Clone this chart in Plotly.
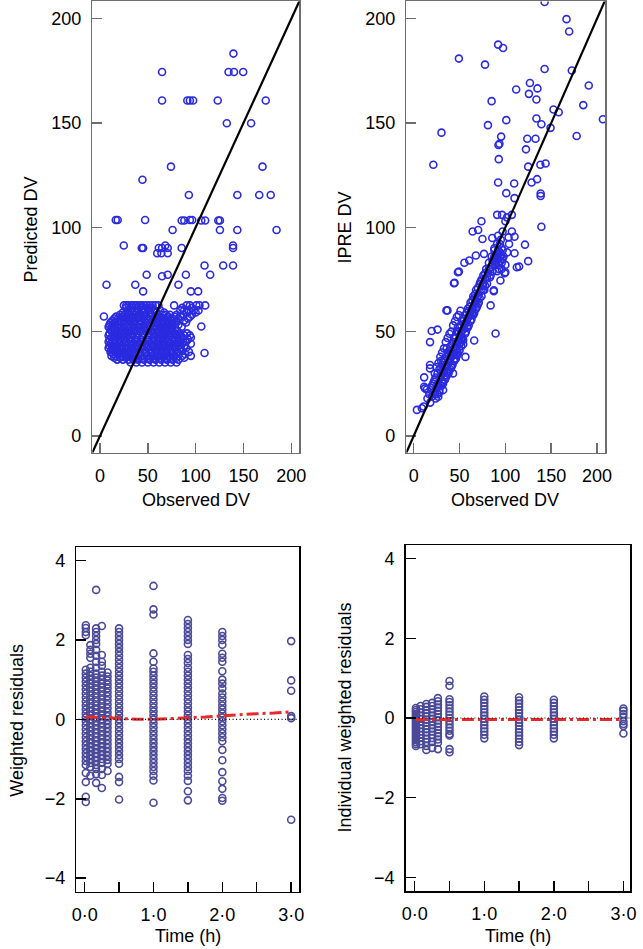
import plotly.graph_objects as go

# ---------------- DATA ----------------
# Top-left: Observed DV vs population Predicted DV (sparse points)
tl_obs = [
    139.5, 64.9, 134.4, 140.1, 149.7,
    64.9, 91.3, 94.0, 97.4, 123.1,
    173.3, 132.6, 158.0, 74.2, 169.9,
    44.4, 92.9, 143.6, 166.5, 178.5,
    16.5, 18.5, 47.2, 85.4, 88.2,
    94.0, 96.4, 105.9, 110.0, 123.7,
    125.4, 75.9, 125.4, 143.6, 184.6,
    24.9, 43.7, 45.1, 61.5, 64.9,
    68.3, 70.8, 59.8, 64.2, 70.8,
    85.4, 139.1, 139.1, 109.3, 128.8,
    139.1, 48.8, 64.9, 70.8, 89.8,
    115.2, 6.8, 36.9, 82.0, 45.1,
    95.0, 102.6, 4.1, 105.9, 109.3,
]
tl_pred = [
    183.3, 174.5, 174.5, 174.5, 174.5,
    160.8, 160.8, 160.8, 160.8, 160.8,
    160.8, 149.9, 149.9, 129.1, 129.1,
    122.8, 115.5, 115.5, 115.5, 115.5,
    103.5, 103.5, 103.5, 103.3, 103.3,
    103.5, 103.5, 103.3, 103.3, 103.3,
    103.3, 98.7, 98.7, 98.7, 98.7,
    91.3, 90.1, 90.1, 90.1, 90.1,
    91.3, 90.1, 87.6, 87.6, 87.6,
    90.1, 91.3, 90.1, 81.7, 81.7,
    81.7, 77.3, 76.6, 77.3, 77.3,
    77.3, 72.5, 72.5, 72.5, 69.3,
    69.3, 69.3, 57.3, 52.5, 39.8,
]
# Top-left dense cluster: predicted levels and the observed values on each level
tl_cluster_levels = [62.6, 61.4, 60.2, 59.2, 58.1, 57.2, 56.3, 55.3, 54.4, 53.3, 52.3, 51.3,
                     50.3, 49.2, 48.2, 47.2, 46.3, 45.2, 44.2, 43.2, 42.2, 41.2, 40.3, 39.3,
                     38.4, 37.5, 36.6, 35.2]
tl_cluster_obs = [
    [25, 27.5, 30, 33, 35.5, 38, 41, 43.5, 46, 49, 52, 55, 58, 61, 77.5, 90.6, 94, 100.8, 104, 110],
    [27, 34, 39, 45, 50, 54, 86, 96],
    [29, 32, 36, 40, 44, 47, 51, 57, 63, 84, 88, 93, 98, 103],
    [24, 30, 34, 38, 46, 52, 59, 67, 91, 100],
    [21, 26, 31, 37, 42, 48, 54, 60, 65, 69, 73, 80, 87, 96],
    [17, 23, 28, 33, 40, 46, 52, 58, 63, 71, 78, 84, 94],
    [15, 19, 24, 29, 34, 39, 45, 50, 56, 62, 67, 71, 76, 82, 92],
    [13, 20, 26, 31, 36, 42, 47, 55, 61, 66, 70, 75, 80, 88],
    [11, 16, 22, 27, 32, 37, 43, 48, 53, 59, 64, 68, 73, 78, 90],
    [10, 14, 19, 25, 30, 35, 41, 46, 51, 57, 61, 66, 70, 76, 82],
    [9, 13, 18, 23, 28, 34, 40, 46, 52, 57, 62, 66, 71, 75, 85.4],
    [11, 15, 20, 25, 30, 37, 43, 49, 55, 59, 64, 68, 73, 79],
    [12, 17, 21, 26, 31, 36, 42, 48, 54, 60, 65, 70, 76, 81],
    [10, 15, 22, 27, 33, 39, 45, 51, 56, 62, 67, 72, 78, 83, 91],
    [9, 14, 19, 24, 29, 34, 39, 45, 51, 57, 63, 68, 73, 79, 84, 88, 94],
    [12, 17, 22, 27, 32, 38, 44, 50, 56, 60, 65, 70, 75, 81, 86, 95],
    [10, 16, 21, 26, 31, 37, 43, 49, 55, 61, 66, 71, 77, 82, 87, 92],
    [9, 13, 18, 23, 28, 33, 39, 45, 51, 57, 62, 67, 72, 78, 84, 90],
    [11, 15, 20, 25, 30, 35, 41, 47, 53, 59, 64, 69, 74, 80, 86, 95],
    [10, 16, 21, 27, 32, 37, 43, 49, 55, 60, 66, 71, 77, 82, 88],
    [9, 13, 18, 23, 28, 33, 38, 44, 50, 56, 62, 67, 72, 78, 84, 90],
    [12, 17, 22, 28, 34, 40, 46, 52, 58, 63, 69, 74, 79, 85],
    [11, 16, 21, 26, 31, 36, 42, 48, 54, 60, 65, 70, 75, 81, 93],
    [14, 19, 25, 30, 35, 41, 47, 53, 58, 64, 69, 75, 80, 89],
    [12, 17, 22, 27, 32, 37, 43, 49, 55, 61, 67, 72, 78, 86, 95],
    [15, 21, 27, 33, 39, 45, 51, 57, 63, 69, 74, 80, 88],
    [18, 24, 30, 35, 40, 46, 52, 58, 64, 70, 76, 82],
    [32, 38, 44, 50, 56, 62, 68, 74, 80],
]

# Top-right: Observed DV vs individual predicted (IPRE) DV
tr_obs = [
    142.8, 166.7, 169.6, 49.3, 77.8,
    92.1, 97.5, 142.8, 172.5, 126.8,
    135.0, 111.8, 125.7, 133.9, 191.0,
    85.0, 185.0, 152.5, 158.2, 133.9,
    101.0, 206.4, 139.3, 149.3, 30.3,
    81.0, 95.4, 123.9, 132.9, 177.8,
    93.5, 92.5, 122.5, 21.4, 92.8,
    124.9, 138.2, 143.9, 134.6, 128.6,
    92.1, 109.6, 101.0, 110.0, 138.5,
    138.5, 91.0, 96.4, 107.1, 101.8,
    100.0, 73.9, 139.3, 64.3, 70.3,
    75.0, 85.7, 107.1, 103.5, 110.0,
    121.4, 110.0, 124.9, 115.0, 99.2,
    87.4, 89.3, 49.3, 43.9, 36.8,
    19.6, 26.0, 17.8, 3.5, 8.9,
    10.7, 11.4, 14.3, 32.1, 23.1,
    11.4, 56.4, 66.0, 44.6, 48.2,
    55.3, 60.6, 67.8, 76.7, 87.4,
    94.6, 100.0, 112.5, 83.9, 42.9,
    26.8, 12.4, 17.8, 17.8, 35.7,
    15, 17, 18, 19, 20, 21, 22, 23, 24, 25, 26, 27, 28, 29, 30,
    31, 32, 33, 34, 35, 36, 37, 38, 39, 40, 41, 42, 43, 44, 45,
    46, 47, 48, 49, 50, 51, 52, 53, 54, 55, 56, 57, 58, 59, 60,
    61, 62, 63, 64, 65, 66, 67, 68, 69, 70, 71, 72, 73, 74, 75,
    76, 77, 78, 79, 80, 81, 82, 83, 84, 85, 86, 87, 88, 89, 90,
    91, 92, 93, 94, 95, 96, 98, 100, 102, 104,
    30, 31, 32, 33, 34, 35, 36, 37, 38, 39, 40, 41, 42, 43, 44,
    45, 46, 47, 48, 49, 50, 51, 52, 53, 54, 55, 56, 57, 58, 59,
    60, 61, 62, 63, 64, 65, 66, 67, 68, 69, 70, 72, 74, 76, 78,
    80, 82, 84, 86, 88, 90, 92, 94, 96, 97,
    20, 22, 24, 26, 28, 30, 32, 34, 36, 38, 40, 42, 44, 46, 48,
    50, 52, 54, 56, 58, 60, 62, 64, 66, 68, 70, 72, 74, 76, 78,
    88, 90, 92, 93, 95, 96, 91, 94, 97, 89, 92, 95, 97,
    23, 25, 27, 29, 31, 33, 35, 37, 39, 41, 43, 45, 47, 49, 51,
    26, 28, 30, 32, 34, 36, 38, 40, 42, 44, 46, 48, 50, 52, 54,
]
tr_ipre = [
    208.0, 199.8, 193.9, 180.9, 178.0,
    187.6, 186.0, 175.9, 175.2, 169.2,
    166.6, 166.1, 164.0, 161.3, 168.0,
    160.5, 158.6, 156.5, 155.2, 152.2,
    151.4, 151.8, 149.4, 147.7, 145.4,
    149.0, 143.5, 142.5, 142.5, 143.8,
    140.1, 139.5, 137.4, 130.0, 132.7,
    129.1, 130.0, 130.6, 123.1, 121.5,
    121.5, 121.0, 116.4, 114.0, 116.2,
    115.0, 106.0, 106.0, 106.0, 104.8,
    102.9, 102.9, 100.3, 98.0, 98.7,
    94.4, 94.9, 98.0, 95.2, 95.5,
    91.7, 87.6, 83.8, 81.2, 78.0,
    69.4, 49.1, 78.8, 73.2, 60.2,
    50.3, 51.0, 45.0, 12.5, 13.3,
    14.1, 23.6, 22.3, 22.0, 20.1,
    28.1, 37.9, 45.8, 73.4, 78.5,
    83.0, 84.1, 86.5, 87.3, 69.8,
    74.5, 78.5, 80.9, 62.6, 30.0,
    18.8, 22.8, 34.0, 32.4, 60.2,
    18, 20, 16, 23, 19, 25, 21, 27, 18, 23, 30, 25, 21, 28, 33,
    26, 30, 36, 29, 33, 38, 31, 35, 41, 37, 33, 44, 39, 36, 42,
    47, 41, 45, 50, 44, 48, 53, 47, 51, 56, 49, 54, 59, 52, 57,
    62, 55, 60, 65, 58, 63, 68, 61, 66, 71, 64, 69, 74, 67, 72,
    77, 70, 75, 80, 73, 78, 83, 76, 81, 86, 79, 84, 89, 82, 87,
    92, 85, 80, 88, 84, 90, 86, 82, 88, 92,
    29, 34, 25, 31, 37, 28, 34, 40, 30, 36, 43, 38, 34, 45, 40,
    37, 44, 50, 40, 46, 52, 45, 50, 55, 46, 52, 58, 50, 55, 61,
    53, 58, 64, 56, 61, 67, 59, 64, 70, 62, 67, 73, 70, 73, 78,
    76, 80, 77, 84, 86, 84, 89, 86, 83, 85,
    24, 26, 28, 24, 32, 36, 35, 33, 42, 39, 40, 40, 47, 39, 52,
    48, 46, 56, 54, 52, 60, 58, 59, 66, 65, 63, 66, 75, 70, 72,
    90, 85, 88, 82, 86, 80, 79, 92, 89, 83, 96, 94, 98,
    30, 33, 35, 38, 40, 42, 45, 47, 49, 50, 53, 55, 57, 58, 60,
    20, 22, 24, 26, 27, 29, 31, 32, 34, 36, 37, 39, 41, 43, 44,
]

# Bottom panels: sampling times (h) and residuals observed at each time
sample_times = [0.017, 0.083, 0.167, 0.25, 0.333, 0.5, 1.0, 1.5, 2.0, 3.0]
wres_by_time = [
    [2.37, 2.3, 2.2, 2.12, 1.25, 1.15, 1.05, 0.95, 0.85, 0.75, 0.65, 0.55, 0.45, 0.35, 0.25, 0.15, 0.05,
     -0.05, -0.15, -0.25, -0.35, -0.45, -0.55, -0.65, -0.75, -0.85, -0.95, -1.05, -1.15, -1.35, -1.58, -1.95, -2.08],
    [1.87, 1.75, 1.65, 1.55, 1.3, 1.2, 1.1, 1.0, 0.9, 0.8, 0.7, 0.6, 0.5, 0.4, 0.3, 0.2, 0.1, 0.0,
     -0.1, -0.2, -0.3, -0.4, -0.5, -0.6, -0.7, -0.8, -0.9, -1.0, -1.1, -1.2, -1.42],
    [3.26, 2.29, 2.2, 2.1, 2.0, 1.9, 1.75, 1.6, 1.45, 1.3, 1.15, 1.05, 0.95, 0.85, 0.75, 0.65, 0.55, 0.45,
     0.35, 0.25, 0.15, 0.05, -0.05, -0.15, -0.25, -0.35, -0.45, -0.55, -0.65, -0.75, -0.85, -0.95, -1.05,
     -1.15, -1.25, -1.38, -1.6],
    [2.35, 1.62, 1.45, 1.35, 1.2, 1.1, 1.0, 0.9, 0.8, 0.7, 0.6, 0.5, 0.4, 0.3, 0.2, 0.1, 0.0,
     -0.1, -0.2, -0.3, -0.4, -0.5, -0.6, -0.7, -0.8, -0.9, -1.0, -1.1, -1.25, -1.4, -1.73],
    [1.18, 1.08, 0.98, 0.88, 0.78, 0.68, 0.58, 0.48, 0.38, 0.28, 0.18, 0.08, -0.02, -0.12, -0.22, -0.32,
     -0.42, -0.52, -0.62, -0.72, -0.82, -0.92, -1.02, -1.12, -1.3],
    [2.29, 2.2, 2.1, 2.0, 1.9, 1.8, 1.7, 1.6, 1.5, 1.4, 1.3, 1.2, 1.1, 1.0, 0.9, 0.8, 0.7, 0.6, 0.5, 0.4,
     0.3, 0.2, 0.1, 0.0, -0.1, -0.2, -0.3, -0.4, -0.5, -0.6, -0.7, -0.8, -0.9, -1.0, -1.12, -1.45, -1.58, -2.02],
    [3.36, 2.77, 2.64, 1.66, 1.45, 1.28, 1.2, 1.1, 1.0, 0.9, 0.8, 0.7, 0.6, 0.5, 0.4, 0.3, 0.2, 0.1, 0.0,
     -0.1, -0.2, -0.3, -0.4, -0.5, -0.6, -0.7, -0.8, -0.9, -1.0, -1.1, -1.2, -1.3, -1.42, -1.54, -2.1],
    [2.5, 2.4, 2.3, 2.2, 2.1, 2.0, 1.9, 1.62, 1.52, 1.42, 1.3, 1.2, 1.1, 1.0, 0.9, 0.8, 0.7, 0.6, 0.5, 0.4,
     0.3, 0.2, 0.1, 0.0, -0.1, -0.2, -0.3, -0.4, -0.5, -0.6, -0.7, -0.8, -0.9, -1.0, -1.1, -1.2, -1.3,
     -1.42, -1.55, -1.81, -2.04],
    [2.2, 2.1, 2.0, 1.88, 1.65, 1.55, 1.45, 1.21, 1.0, 0.9, 0.78, 0.65, 0.55, 0.45, 0.35, 0.25, 0.15, 0.05,
     -0.05, -0.15, -0.25, -0.35, -0.45, -0.55, -0.77, -1.03, -1.33, -1.56, -1.75, -1.98, -2.05],
    [1.97, 0.98, 0.72, 0.08, 0.03, -2.53],
]
iwres_by_time = [
    [0.25, 0.2, 0.15, 0.1, 0.05, 0.0, -0.05, -0.1, -0.15, -0.2, -0.25, -0.3, -0.35, -0.4, -0.45, -0.5,
     -0.55, -0.6, -0.65, -0.7],
    [0.3, 0.22, 0.14, 0.06, -0.02, -0.1, -0.18, -0.26, -0.34, -0.42, -0.5, -0.58, -0.66],
    [0.35, 0.28, 0.2, 0.12, 0.04, -0.04, -0.12, -0.2, -0.28, -0.36, -0.44, -0.52, -0.6, -0.7, -0.8],
    [0.38, 0.3, 0.22, 0.14, 0.06, -0.02, -0.1, -0.18, -0.26, -0.34, -0.42, -0.5, -0.6, -0.75],
    [0.5, 0.42, 0.34, 0.26, 0.18, 0.1, 0.02, -0.06, -0.14, -0.22, -0.3, -0.38, -0.46, -0.54, -0.62, -0.78],
    [0.93, 0.81, 0.47, 0.4, 0.32, 0.24, 0.16, 0.08, 0.0, -0.08, -0.16, -0.24, -0.32, -0.4, -0.44, -0.78, -0.86],
    [0.54, 0.46, 0.38, 0.3, 0.22, 0.14, 0.06, -0.02, -0.1, -0.18, -0.26, -0.34, -0.42, -0.51],
    [0.52, 0.44, 0.36, 0.28, 0.2, 0.12, 0.04, -0.04, -0.12, -0.2, -0.28, -0.36, -0.44, -0.52, -0.6, -0.68],
    [0.46, 0.38, 0.3, 0.22, 0.14, 0.06, -0.02, -0.1, -0.18, -0.26, -0.34, -0.42, -0.51],
    [0.24, 0.18, 0.1, 0.02, -0.08, -0.15, -0.2, -0.39],
]

# Smooth (loess) trend lines through the residuals
smooth_time = [0.017, 0.083, 0.167, 0.25, 0.333, 0.5, 0.75, 1.0, 1.25, 1.5, 1.75, 2.0, 2.25, 2.5, 2.75, 3.0]
wres_smooth = [0.06, 0.06, 0.05, 0.05, 0.04, 0.02, 0.0, 0.0, 0.02, 0.03, 0.06, 0.09, 0.12, 0.14, 0.16, 0.19]
iwres_smooth = [-0.04, -0.04, -0.04, -0.03, -0.03, -0.03, -0.03, -0.03, -0.03, -0.03, -0.03, -0.03,
                -0.03, -0.03, -0.04, -0.04]

dv_ticks = [0, 50, 100, 150, 200]
time_ticks = [0, 0.5, 1.0, 1.5, 2.0, 2.5, 3.0]
time_labels = ["0·0", "", "1·0", "", "2·0", "", "3·0"]
res_ticks = [-4, -2, 0, 2, 4]
res_labels = ["\u22124", "\u22122", "0", "2", "4"]

# ---------------- BUILD ----------------
FONT = "Liberation Sans, Arial, Helvetica, sans-serif"
TOP_BLUE = "#2a2ae0"
BOT_BLUE = "#4a4a98"
RED = "#e8282a"
GRAY = "#6e6e6e"

cl_x, cl_y = [], []
for level, row in zip(tl_cluster_levels, tl_cluster_obs):
    cl_x.extend(row)
    cl_y.extend([level] * len(row))

bl_x, bl_y, br_x, br_y = [], [], [], []
for t, vals in zip(sample_times, wres_by_time):
    bl_x.extend([t] * len(vals)); bl_y.extend(vals)
for t, vals in zip(sample_times, iwres_by_time):
    br_x.extend([t] * len(vals)); br_y.extend(vals)

def mk(color):
    return dict(symbol="circle-open", size=7, color=color, line=dict(width=1.6, color=color))

fig = go.Figure()
fig.add_trace(go.Scatter(x=tl_obs + cl_x, y=tl_pred + cl_y, mode="markers", marker=mk(TOP_BLUE),
                         xaxis="x", yaxis="y", showlegend=False, hoverinfo="skip"))
fig.add_trace(go.Scatter(x=tr_obs, y=tr_ipre, mode="markers", marker=mk(TOP_BLUE),
                         xaxis="x2", yaxis="y2", showlegend=False, hoverinfo="skip"))
fig.add_trace(go.Scatter(x=bl_x, y=bl_y, mode="markers", marker=mk(BOT_BLUE),
                         xaxis="x3", yaxis="y3", showlegend=False, hoverinfo="skip"))
fig.add_trace(go.Scatter(x=smooth_time, y=wres_smooth, mode="lines",
                         line=dict(color=RED, width=3, dash="12px,4px,3px,4px"),
                         xaxis="x3", yaxis="y3", showlegend=False, hoverinfo="skip"))
fig.add_trace(go.Scatter(x=br_x, y=br_y, mode="markers", marker=mk(BOT_BLUE),
                         xaxis="x4", yaxis="y4", showlegend=False, hoverinfo="skip"))
fig.add_trace(go.Scatter(x=smooth_time, y=iwres_smooth, mode="lines",
                         line=dict(color=RED, width=3, dash="12px,4px,3px,4px"),
                         xaxis="x4", yaxis="y4", showlegend=False, hoverinfo="skip"))

def ax(linecolor, **kw):
    d = dict(showline=True, linecolor=linecolor, linewidth=1.5, mirror=True,
             ticks="inside", ticklen=10, tickwidth=1.5, tickcolor=linecolor,
             showgrid=False, zeroline=False, ticklabelstandoff=6,
             tickfont=dict(family=FONT, size=18, color="black"))
    d.update(kw)
    return d

fig.update_layout(
    width=643, height=949, margin=dict(l=0, r=0, t=0, b=0),
    paper_bgcolor="white", plot_bgcolor="white", showlegend=False,
    font=dict(family=FONT, size=18, color="black"),
    xaxis=ax(GRAY, domain=[0.1384, 0.4666], range=[-8, 208.5], tickvals=dv_ticks, anchor="y"),
    yaxis=ax(GRAY, domain=[0.523, 0.9985], range=[-8, 208.3], tickvals=dv_ticks, anchor="x"),
    xaxis2=ax(GRAY, domain=[0.6361, 0.9513], range=[-8, 209], tickvals=dv_ticks, anchor="y2"),
    yaxis2=ax(GRAY, domain=[0.523, 0.9985], range=[-8, 208.3], tickvals=dv_ticks, anchor="x2"),
    xaxis3=ax("black", domain=[0.1131, 0.4666], range=[-0.12, 3.12], tickvals=time_ticks,
              ticktext=time_labels, anchor="y3"),
    yaxis3=ax("black", domain=[0.0604, 0.4236], range=[-4.34, 4.34], tickvals=res_ticks,
              ticktext=res_labels, anchor="x3"),
    xaxis4=ax("black", domain=[0.635, 0.9911], range=[-0.13, 3.1], tickvals=time_ticks,
              ticktext=time_labels, anchor="y4"),
    yaxis4=ax("black", domain=[0.0611, 0.4257], range=[-4.34, 4.34], tickvals=res_ticks,
              ticktext=res_labels, anchor="x4"),
)

# identity lines
for xr, yr, hi in (("x", "y", 208.5), ("x2", "y2", 209)):
    fig.add_shape(type="line", xref=xr, yref=yr, x0=-8, y0=-8, x1=hi, y1=hi,
                  line=dict(color="black", width=2.2), layer="above")
# zero reference lines
for xr, yr in (("x3 domain", "y3"), ("x4 domain", "y4")):
    fig.add_shape(type="line", xref=xr, yref=yr, x0=0.01, x1=1, y0=0, y1=0,
                  line=dict(color="black", width=1.2, dash="1px,2.5px"), layer="above")

titles = [
    ("Predicted DV", 26, 230, -90),
    ("IPRE DV", 346, 228, -90),
    ("Observed DV", 194.5, 500, 0),
    ("Observed DV", 510, 500, 0),
    ("Weighted residuals", 12, 720, -90),
    ("Individual weighted residuals", 346, 718, -90),
    ("Time (h)", 186.5, 936, 0),
    ("Time (h)", 523, 936, 0),
]
for text, px, py, ang in titles:
    fig.add_annotation(text=text, xref="paper", yref="paper", x=px / 643, y=1 - py / 949,
                       xanchor="center", yanchor="middle", showarrow=False, textangle=ang,
                       font=dict(family=FONT, size=18, color="black"))

fig.write_html("out.html", config={"displayModeBar": False, "staticPlot": True},
               post_script="document.body.style.margin='0';document.body.style.overflow='hidden';")
